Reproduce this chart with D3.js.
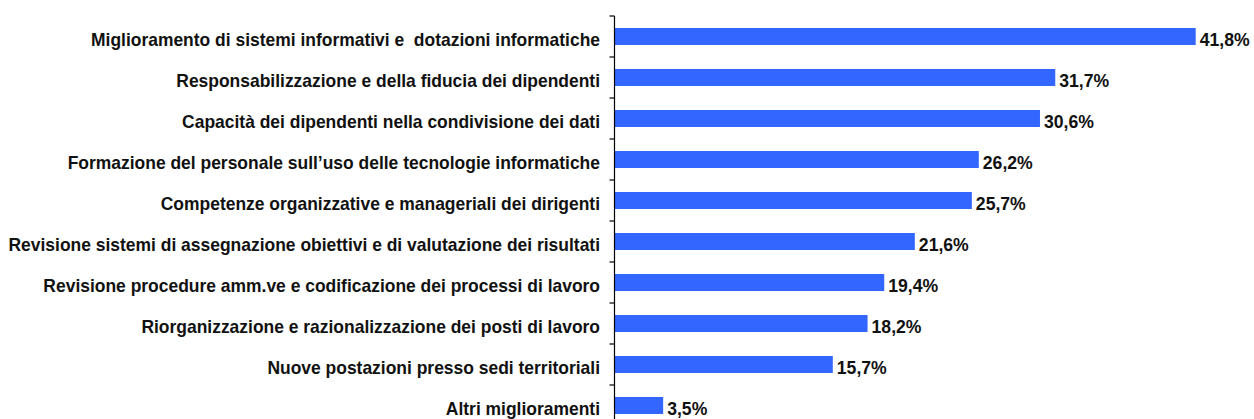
<!DOCTYPE html>
<html><head><meta charset="utf-8">
<script src="https://cdn.jsdelivr.net/npm/d3@7"></script>
<style>body{margin:0;background:#fff}svg{display:block}text{white-space:pre}</style>
</head><body>
<script>
const categories = [
  "Miglioramento di sistemi informativi e  dotazioni informatiche",
  "Responsabilizzazione e della fiducia dei dipendenti",
  "Capacità dei dipendenti nella condivisione dei dati",
  "Formazione del personale sull\u2019uso delle tecnologie informatiche",
  "Competenze organizzative e manageriali dei dirigenti",
  "Revisione sistemi di assegnazione obiettivi e di valutazione dei risultati",
  "Revisione procedure amm.ve e codificazione dei processi di lavoro",
  "Riorganizzazione e razionalizzazione dei posti di lavoro",
  "Nuove postazioni presso sedi territoriali",
  "Altri miglioramenti"
];
const values = [41.8, 31.7, 30.6, 26.2, 25.7, 21.6, 19.4, 18.2, 15.7, 3.5];
const valueLabels = ["41,8%","31,7%","30,6%","26,2%","25,7%","21,6%","19,4%","18,2%","15,7%","3,5%"];

(function(){
const W = 1254, H = 419;
const x0 = 614.5, yTop = 16, bandStep = 41;
const svg = d3.select("body").append("svg").attr("width", W).attr("height", H);
const x = d3.scaleLinear().domain([0, 41.8]).range([x0, 1195.7]);
const y = d3.scaleBand().domain(categories).range([yTop, yTop + bandStep * categories.length]).paddingInner(0.585).paddingOuter(0.2925);

const font = "'Liberation Sans', Arial, sans-serif";
const fs = 18;

svg.append("g").selectAll("rect").data(values).join("rect")
  .attr("x", x0 + 0.5)
  .attr("y", (d, i) => y(categories[i]))
  .attr("width", d => x(d) - x0 - 0.5)
  .attr("height", y.bandwidth())
  .attr("fill", "#3366FF");

// axis
const yAxis = d3.axisLeft(y).tickSize(0).tickFormat("");
const ag = svg.append("g").attr("transform", `translate(${x0},0)`).call(yAxis);
ag.select(".domain").remove();
ag.append("line").attr("x1", 0).attr("x2", 0).attr("y1", yTop).attr("y2", H).attr("stroke", "#000").attr("stroke-width", 1.2);
const bounds = d3.range(categories.length + 1).map(i => yTop + i * bandStep);
ag.selectAll(".bt").data(bounds).join("line").attr("class", "bt")
  .attr("x1", -5).attr("x2", 0).attr("y1", d => d).attr("y2", d => d)
  .attr("stroke", "#000").attr("stroke-width", 1.2);

// category labels
const lg = svg.append("g");
const labels = lg.selectAll("text").data(categories).join("text")
  .attr("x", 0)
  .attr("y", d => y(d) + y.bandwidth() / 2 + 3)
  .attr("dy", "0.35em")
  .attr("text-anchor", "end")
  .attr("font-family", font).attr("font-weight", "bold").attr("font-size", fs)
  .attr("fill", "#111")
  .text(d => d);
let maxW = 0;
labels.each(function(){ maxW = Math.max(maxW, this.getComputedTextLength()); });
const sx = 592 / maxW;
lg.attr("transform", `translate(600,0) scale(${sx},1)`);

// value labels
const vg = svg.append("g");
const vl = vg.selectAll("text").data(values).join("text")
  .attr("y", (d, i) => y(categories[i]) + y.bandwidth() / 2 + 3)
  .attr("dy", "0.35em")
  .attr("font-family", font).attr("font-weight", "bold").attr("font-size", fs)
  .attr("fill", "#111")
  .text((d, i) => valueLabels[i]);
const refW = vl.nodes()[8].getComputedTextLength();
const vsx = 50 / refW;
vl.attr("transform", d => `translate(${x(d) + 4},0) scale(${vsx},1)`);
})();
</script>
</body></html>
